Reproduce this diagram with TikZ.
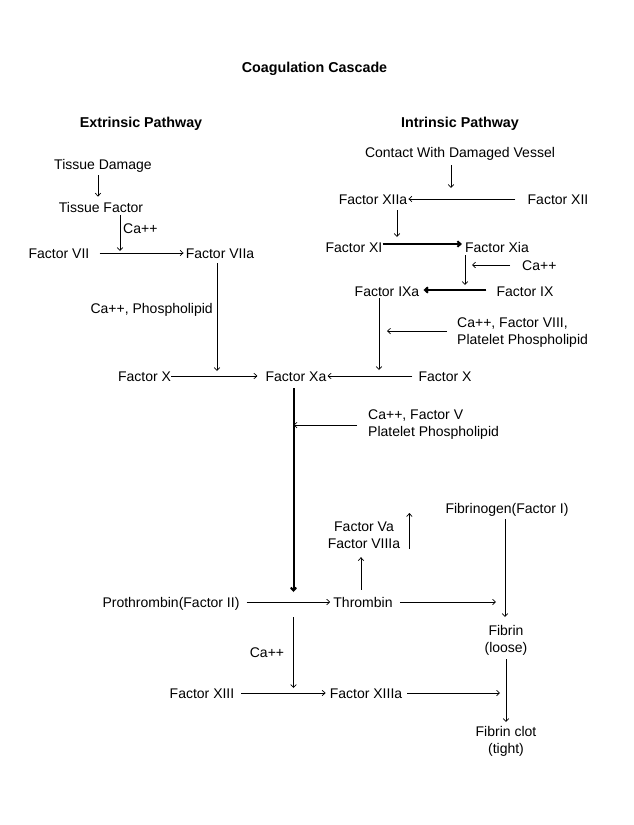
\documentclass[tikz,border=0pt]{standalone}
\usepackage{fontspec}
\setmainfont{Liberation Sans}
\usetikzlibrary{arrows.meta,calc}
\begin{document}
\begin{tikzpicture}[x=1pt,y=-1pt,
  lbl/.style={inner sep=0pt, font=\fontsize{14}{17}\selectfont, anchor=base},
  hdr/.style={lbl, font=\fontsize{14.3}{17}\selectfont\bfseries},
  ml/.style={inner sep=0pt, font=\fontsize{14}{17}\selectfont, anchor=north},
  arr/.style={draw, line width=0.7pt, -{Straight Barb[length=3pt,width=5.5pt]}},
  tarr/.style={arr, line width=2pt},
]
\useasboundingbox (0,0) rectangle (634,825);
% headings
\node[hdr] (title) at (314.5,72) {Coagulation Cascade};
\node[hdr] (ext) at (141,127) {Extrinsic Pathway};
\node[hdr] (intr) at (460,127) {Intrinsic Pathway};
% extrinsic
\node[lbl] (td) at (103,169) {Tissue Damage};
\node[lbl] (tf) at (101,212) {Tissue Factor};
\node[lbl, anchor=base west] (ca1) at (123,233) {Ca++};
\node[lbl] (f7) at (59,258) {Factor VII};
\node[lbl] (f7a) at (220,258) {Factor VIIa};
\node[lbl, anchor=base east] (cap1) at (213,313) {Ca++, Phospholipid};
\node[lbl] (fx1) at (144.5,381) {Factor X};
\node[lbl] (fxa) at (296,381) {Factor Xa};
\node[lbl] (fx2) at (445,381) {Factor X};
\node[ml, anchor=north west, align=left] (cfv) at (368,410) {Ca++, Factor V\\Platelet Phospholipid};
% intrinsic
\node[lbl] (cdv) at (460,157) {Contact With Damaged Vessel};
\node[lbl] (f12a) at (373,204) {Factor XIIa};
\node[lbl] (f12) at (558,204) {Factor XII};
\node[lbl] (f11) at (354,252) {Factor XI};
\node[lbl] (f11a) at (497,252) {Factor Xia};
\node[lbl, anchor=base west] (ca2) at (522,270) {Ca++};
\node[lbl] (f9a) at (387,296) {Factor IXa};
\node[lbl] (f9) at (525,296) {Factor IX};
\node[ml, anchor=north west, align=left] (cf8) at (457,318) {Ca++, Factor VIII,\\Platelet Phospholipid};
% common
\node[lbl] (fgn) at (507,513) {Fibrinogen(Factor I)};
\node[ml, align=center] (fva) at (364,522) {Factor Va\\Factor VIIIa};
\node[lbl] (pro) at (171,607) {Prothrombin(Factor II)};
\node[lbl] (thr) at (363,607) {Thrombin};
\node[ml, align=center] (fib) at (506,625) {Fibrin\\(loose)};
\node[lbl] (ca3) at (267,657) {Ca++};
\node[lbl] (f13) at (202,698) {Factor XIII};
\node[lbl] (f13a) at (366,698) {Factor XIIIa};
\node[ml, align=center] (clot) at (506,726) {Fibrin clot\\(tight)};
% junction points
\coordinate (j1) at (120,253);
\coordinate (j2) at (217,376);
\coordinate (j3) at (293.5,602);
\coordinate (j5) at (451,199);
\coordinate (k1) at (397,244);
\coordinate (k2) at (465,290);
\coordinate (k3) at (379,376);
\coordinate (k4) at (505,602);
\coordinate (k5) at (293.5,693);
\coordinate (k6) at (506,693);
% extrinsic connectors
\draw[arr, shorten <=3pt, shorten >=5pt] ([xshift=-5pt]td.south) -- ([xshift=-5pt]td.south |- tf.north);
\draw[arr, shorten <=3pt, shorten >=2pt] (tf.south -| j1) -- (j1);
\draw[arr, shorten <=10pt, shorten >=2pt] ([yshift=5pt]f7.base east) -- ([yshift=5pt]f7a.base west);
\draw[arr, shorten <=5pt, shorten >=5pt] (f7a.south -| j2) -- (j2);
\draw[arr, shorten >=8pt] ([yshift=5pt]fx1.base east) -- ([yshift=5pt]fxa.base west);
\draw[arr, shorten <=6pt, shorten >=1pt] ([yshift=5pt]fx2.base west) -- ([yshift=5pt]fxa.base east);
\draw[tarr, shorten <=7pt, shorten >=10pt] (fxa.south -| j3) -- (j3);
\draw[arr, shorten <=11pt] (cfv.west) -- (cfv.west -| j3);
% intrinsic connectors
\draw[arr, shorten <=5pt, shorten >=11pt] (cdv.south -| j5) -- (j5);
\draw[arr, shorten <=12pt, shorten >=1pt] ([yshift=5pt]f12.base west) -- ([yshift=5pt]f12a.base east);
\draw[arr, shorten <=6pt, shorten >=7pt] (f12a.south -| k1) -- (k1);
\draw[tarr, shorten >=3pt] ([yshift=8pt]f11.base east) -- ([yshift=8pt]f11a.base west);
\draw[arr, shorten <=3pt, shorten >=5pt] (f11a.south -| k2) -- (k2);
\draw[arr, shorten <=12pt, shorten >=7pt] ([yshift=5pt]ca2.base west) -- ([yshift=5pt]ca2.base west -| k2);
\draw[tarr, shorten <=10pt, shorten >=4pt] ([yshift=6pt]f9.base west) -- ([yshift=6pt]f9a.base east);
\draw[arr, shorten <=2pt, shorten >=6pt] (f9a.south -| k3) -- (k3);
\draw[arr, shorten <=10pt, shorten >=8pt] ([yshift=2pt]cf8.west) -- ([yshift=2pt]cf8.west -| k3);
% common connectors
\draw[arr, shorten <=7pt, shorten >=3pt] ([yshift=5pt]pro.base east) -- ([yshift=5pt]thr.base west);
\draw[arr, shorten <=7pt, shorten >=8pt] ([xshift=-2pt]thr.north) -- ([xshift=-2pt]thr.north |- fva.south);
\draw[arr] ($(fva.south east)+(9,0)$) -- ($(fva.north east)+(9,-9)$);
\draw[arr, shorten <=7pt, shorten >=9pt] ([yshift=5pt]thr.base east) -- (k4);
\draw[arr, shorten <=3pt, shorten >=8pt] (k4 |- fgn.south) -- (k4 |- fib.north);
\draw[arr, shorten <=4pt, shorten >=4pt] (fib.south) -- (clot.north);
\draw[arr, shorten <=15pt, shorten >=5pt] (j3) -- (k5);
\draw[arr, shorten <=7pt, shorten >=4pt] ([yshift=5pt]f13.base east) -- ([yshift=5pt]f13a.base west);
\draw[arr, shorten <=5pt, shorten >=6pt] ([yshift=5pt]f13a.base east) -- (k6);
\end{tikzpicture}
\end{document}
